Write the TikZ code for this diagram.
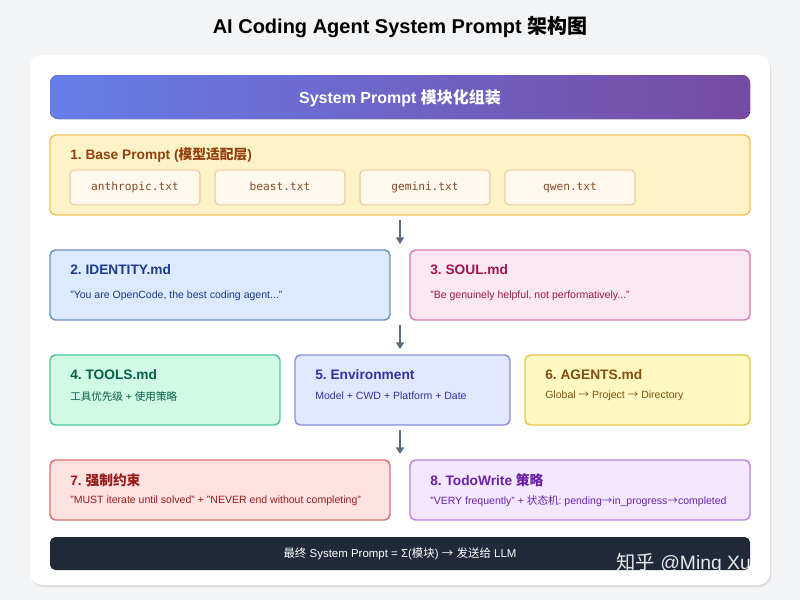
\documentclass[tikz,border=0pt]{standalone}
\usepackage{fontspec}
\setmainfont{Liberation Sans}
\newfontfamily\cjk{Noto Sans CJK SC}
\setmonofont{DejaVu Sans Mono}
\usetikzlibrary{shadows,arrows.meta}
\newcommand{\zh}[1]{{\cjk #1}}
\definecolor{bg}{HTML}{F3F4F6}
\definecolor{ga}{HTML}{667EEA}\definecolor{gb}{HTML}{764BA2}
\definecolor{arr}{HTML}{5A6B7D}
\definecolor{yf}{HTML}{FEF3C7}\definecolor{yd}{HTML}{F5C15C}\definecolor{yt}{HTML}{92400E}
\definecolor{sf}{HTML}{FFF8EC}\definecolor{sd}{HTML}{EFC9A4}\definecolor{st}{HTML}{8A4B2A}
\definecolor{bf}{HTML}{DBEAFE}\definecolor{bd}{HTML}{6B93C4}\definecolor{bt}{HTML}{1E3A8A}
\definecolor{pf}{HTML}{FCE7F3}\definecolor{pd}{HTML}{D67BAE}\definecolor{pt}{HTML}{9D174D}
\definecolor{gf}{HTML}{D1FAE5}\definecolor{gd}{HTML}{4CC99A}\definecolor{gt}{HTML}{065F46}
\definecolor{if}{HTML}{E0E7FF}\definecolor{id}{HTML}{8B8FD8}\definecolor{it}{HTML}{3730A3}
\definecolor{af}{HTML}{FEF9C3}\definecolor{ad}{HTML}{E2C74A}\definecolor{at}{HTML}{854D0E}
\definecolor{rf}{HTML}{FEE2E2}\definecolor{rd}{HTML}{E07070}\definecolor{rt}{HTML}{991B1B}
\definecolor{vf}{HTML}{F3E8FF}\definecolor{vd}{HTML}{B884E0}\definecolor{vt}{HTML}{6B21A8}
\definecolor{dk}{HTML}{1F2937}
\tikzset{
  x=0.75pt,y=-0.75pt,
  box/.style={line width=1.1pt, rounded corners=4pt},
  ttl/.style={anchor=west, inner sep=0pt, font=\bfseries\fontsize{10.3}{12}\selectfont},
  dsc/.style={anchor=west, inner sep=0pt, font=\fontsize{7.9}{9}\selectfont},
  sub/.style={draw=sd, fill=sf, line width=0.8pt, rounded corners=3pt, minimum width=97.5pt, minimum height=26pt, text height=6pt, text depth=1.5pt, font=\ttfamily\fontsize{8.4}{9}\selectfont, text=st},
  ar/.style={-{Triangle[length=5pt,width=6pt]}, draw=arr, line width=1.3pt}
}
\begin{document}
\frenchspacing
\begin{tikzpicture}
\fill[bg] (0,0) rectangle (800,600);
\useasboundingbox (0,0) rectangle (800,600);
\node (title) at (400,27) {\bfseries\fontsize{15}{18}\selectfont AI Coding Agent System Prompt \zh{架构图}};
\fill[white, rounded corners=9pt, drop shadow={opacity=0.2,shadow xshift=1pt,shadow yshift=-1.5pt}] (30,55) rectangle (770,585);
\fill[rounded corners=6pt, left color=ga, right color=gb] (50,75) rectangle (750,119);
\node[text=white] (hdr) at (400,98) {\bfseries\fontsize{12}{14}\selectfont System Prompt \zh{模块化组装}};
% base
\draw[box, fill=yf, draw=yd] (50,135) rectangle (750,215);
\node[ttl, text=yt] (t1) at (70,155) {1. Base Prompt (\zh{模型适配层})};
\node[sub] (s1) at (135,187.5) {anthropic.txt};
\node[sub] (s2) at (280,187.5) {beast.txt};
\node[sub] (s3) at (425,187.5) {gemini.txt};
\node[sub] (s4) at (570,187.5) {qwen.txt};
% row 2
\draw[box, fill=bf, draw=bd] (50,250) rectangle (390,320);
\node[ttl, text=bt] (t2) at (70,270) {2. IDENTITY.md};
\node[dsc, text=bt] (d2) at (70,296) {"You are OpenCode, the best coding agent..."};
\draw[box, fill=pf, draw=pd] (410,250) rectangle (750,320);
\node[ttl, text=pt] (t3) at (430,270) {3. SOUL.md};
\node[dsc, text=pt] (d3) at (430,296) {"Be genuinely helpful, not performatively..."};
% row 3
\draw[box, fill=gf, draw=gd] (50,355) rectangle (280,425);
\node[ttl, text=gt] (t4) at (70,375) {4. TOOLS.md};
\node[dsc, text=gt] (d4) at (70,396) {\zh{工具优先级} + \zh{使用策略}};
\draw[box, fill=if, draw=id] (295,355) rectangle (510,425);
\node[ttl, text=it] (t5) at (315,375) {5. Environment};
\node[dsc, text=it] (d5) at (315,396) {Model + CWD + Platform + Date};
\draw[box, fill=af, draw=ad] (525,355) rectangle (750,425);
\node[ttl, text=at] (t6) at (545,375) {6. AGENTS.md};
\node[dsc, text=at] (d6) at (545,396) {Global \zh{→} Project \zh{→} Directory};
% row 4
\draw[box, fill=rf, draw=rd] (50,460) rectangle (390,520);
\node[ttl, text=rt] (t7) at (70,480) {7. \zh{强制约束}};
\node[dsc, text=rt] (d7) at (70,501) {"MUST iterate until solved" + "NEVER end without completing"};
\draw[box, fill=vf, draw=vd] (410,460) rectangle (750,520);
\node[ttl, text=vt] (t8) at (430,480) {8. TodoWrite \zh{策略}};
\node[dsc, text=vt] (d8) at (430,501) {"VERY frequently" + \zh{状态机}: pending\zh{→}in\_progress\zh{→}completed};
% bottom
\fill[dk, rounded corners=4pt] (50,537) rectangle (750,570);
\node[text=white, font=\fontsize{8.6}{10}\selectfont] (fin) at (400,553.5) {\zh{最终} System Prompt = Σ(\zh{模块}) \zh{→} \zh{发送给} LLM};
% arrows
\coordinate (a1) at (400,220); \coordinate (b1) at (400,244);
\coordinate (a2) at (400,325); \coordinate (b2) at (400,349);
\coordinate (a3) at (400,430); \coordinate (b3) at (400,454);
\draw[ar] (a1) -- (b1);
\draw[ar] (a2) -- (b2);
\draw[ar] (a3) -- (b3);
% watermark
\node[text=white, opacity=0.9, inner sep=0pt, font=\fontsize{14.5}{18}\selectfont, anchor=west] (wm) at (616,563) {\zh{知乎} @Ming Xu};
\end{tikzpicture}
\end{document}
